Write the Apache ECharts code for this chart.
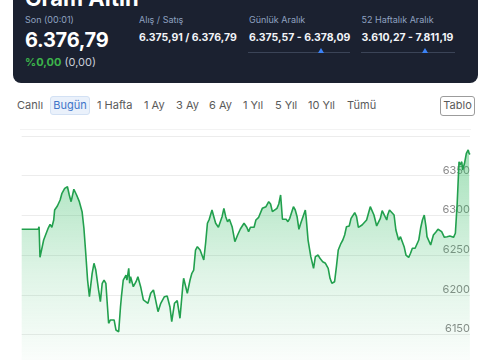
<!DOCTYPE html>
<html>
<head>
<meta charset="utf-8">
<script src="https://cdn.jsdelivr.net/npm/echarts@6/dist/echarts.min.js"></script>
<style>
  html, body { margin:0; padding:0; background:#fff; width:480px; height:360px; overflow:hidden; font-family: Inter, "Noto Sans", sans-serif; }
  .abs { position:absolute; white-space:nowrap; }
  #card { position:absolute; left:13px; top:-20px; width:465px; height:102.7px; background:#1b2130; border-radius:8px; }
  .lbl { font-size:9px; line-height:9px; color:#8fa1c0; }
  .val { font-size:10.5px; line-height:11px; font-weight:700; color:#f2f4f8; }
  .tab { font-size:11px; line-height:11px; color:#5a5a5a; top:100px; }
  .slider { position:absolute; height:1px; background:#3b4457; top:51.5px; }
  .tri { position:absolute; width:0; height:0; border-left:3.5px solid transparent; border-right:3.5px solid transparent; border-bottom:5px solid #3b82f6; top:48px; }
  #chart { position:absolute; left:0; top:120px; width:480px; height:260px; }
</style>
</head>
<body>
<div id="card"></div>
<div class="abs" style="left:25px;top:-13px;font-size:22px;line-height:22px;font-weight:700;color:#fff;">Gram Altın</div>
<div class="abs lbl" style="left:25px;top:15px;">Son (00:01)</div>
<div class="abs" style="left:25px;top:30px;font-size:20px;line-height:20px;font-weight:700;color:#fff;letter-spacing:-0.3px;">6.376,79</div>
<div class="abs" style="left:25px;top:56.5px;font-size:11px;line-height:11px;"><span style="color:#3cb44b;font-weight:700;">%0,00</span> <span style="color:#c9ced8;">(0,00)</span></div>

<div class="abs lbl" style="left:139px;top:15px;">Alış / Satış</div>
<div class="abs val" style="left:139px;top:32px;">6.375,91 / 6.376,79</div>

<div class="abs lbl" style="left:249px;top:15px;">Günlük Aralık</div>
<div class="abs val" style="left:249px;top:32px;">6.375,57 - 6.378,09</div>
<div class="slider" style="left:248px;width:102px;"></div>
<div class="tri" style="left:317.5px;"></div>

<div class="abs lbl" style="left:361.5px;top:15px;">52 Haftalık Aralık</div>
<div class="abs val" style="left:361.5px;top:32px;">3.610,27 - 7.811,19</div>
<div class="slider" style="left:361px;width:94px;"></div>
<div class="tri" style="left:421.5px;"></div>

<div class="abs tab" style="left:17px;">Canlı</div>
<div class="abs" style="left:50px;top:96px;width:38px;height:17px;background:#eaf1fb;border:1px solid #d3e1f4;border-radius:3px;"></div>
<div class="abs tab" style="left:50px;width:40px;text-align:center;color:#3d74c9;">Bugün</div>
<div class="abs tab" style="left:97px;">1 Hafta</div>
<div class="abs tab" style="left:144px;">1 Ay</div>
<div class="abs tab" style="left:176px;">3 Ay</div>
<div class="abs tab" style="left:209px;">6 Ay</div>
<div class="abs tab" style="left:243px;">1 Yıl</div>
<div class="abs tab" style="left:275px;">5 Yıl</div>
<div class="abs tab" style="left:308px;">10 Yıl</div>
<div class="abs tab" style="left:347px;">Tümü</div>
<div class="abs" style="left:440px;top:96px;width:33px;height:18px;border:1px solid #9c9c9c;border-radius:3px;"></div>
<div class="abs tab" style="left:440px;width:35px;text-align:center;">Tablo</div>
<div class="abs" style="left:20px;top:129px;width:451px;height:1px;background:#f3f3f3;"></div>

<div id="chart"></div>
<script>
// minutes after session start (10:00)
const tradeMinutes = [
  0,18,19,20,24,29,31,33,35,36,
  39,42,44,46,47,50,52,54,57,60,
  63,66,68,70,72,74,77,79,81,84,
  86,88,90,92,93,95,97,99,101,103,
  106,108,109,111,114,115,117,118,119,122,
  125,127,130,133,135,138,141,144,146,149,
  152,156,159,162,164,167,170,171,173,176,
  177,179,181,184,186,188,190,192,195,197,
  199,201,203,205,208,210,212,215,217,219,
  221,223,225,227,230,232,233,236,239,243,
  245,246,248,250,252,254,256,259,261,263,
  265,267,270,272,274,276,279,281,283,285,
  287,289,291,293,295,297,299,301,303,305,
  307,310,311,313,316,319,321,324,326,329,
  332,335,337,339,342,344,346,349,351,353,
  355,358,360,361,364,366,368,370,372,374,
  377,379,381,383,385,388,390,392,394,396,
  399,400,402,404,407,409,412,414,416,418,
  420,423,425,427,430,432,434,436,438,440,
  442,443,445,447,450,453,455,457,459,462,
  465,468,470,472,474,476,478,479,481,482,
  484,486,488,489,490
];
const prices = [
  6282.5,6282.5,6285.8,6247.2,6269,6284.1,6288.8,6285,6294.2,6306.8,
  6311.8,6319.4,6327.8,6329.8,6334.1,6336.1,6325.7,6317.3,6332.9,6325.7,
  6317.3,6304.7,6283.8,6252.3,6218.6,6197.6,6227.1,6239.7,6231.2,6206.1,
  6191.3,6214.5,6218.6,6214.5,6197.6,6164.1,6168.3,6169.1,6168.3,6155.7,
  6153.5,6185,6197.6,6218.6,6224.9,6218.6,6233.4,6214.5,6222.8,6210.2,
  6216.5,6222.8,6210.2,6193.5,6191.3,6189.3,6201.9,6206.1,6195.6,6178.7,
  6189.3,6197.6,6198.5,6185,6166.1,6189.3,6192.6,6185,6170.4,6210.2,
  6220.8,6218.6,6201.9,6218.6,6227.1,6231.2,6256.4,6260.6,6256.4,6254.3,
  6243.8,6264.9,6290.1,6295.1,6306.8,6298.4,6290.1,6285,6282.5,6298.4,
  6308.9,6298.4,6292.1,6295.1,6285.8,6273.2,6266.9,6275.3,6282.9,6290.1,
  6292.1,6285,6279.5,6285,6286.7,6285,6294.2,6297.6,6296.3,6308.9,
  6306.8,6311,6317.3,6314.4,6304.7,6306.8,6308.9,6314.4,6325.7,6295.1,
  6293.3,6295.1,6292.1,6296.3,6294.2,6311,6306.8,6298.4,6282.5,6290.1,
  6292.1,6306.8,6296.3,6269,6248,6233.4,6248,6250.1,6246,6241.7,
  6239.7,6233.4,6220.8,6214.5,6216.5,6235.4,6256.4,6264.9,6269,6275.3,
  6285.8,6286.7,6296.3,6294.2,6303.4,6298.4,6285,6285,6287.9,6286.7,
  6294.2,6296.3,6311,6308.9,6300.5,6286.7,6289.2,6296.3,6305.9,6303.4,
  6294.2,6300.5,6306.8,6305.9,6300.5,6281.6,6269,6273.2,6275.3,6260.6,
  6250.1,6247.2,6252.3,6258.6,6258.6,6259.8,6269,6283.8,6294.2,6300.5,
  6285,6273.2,6271.2,6262.7,6275.3,6279.5,6282.5,6285,6279.5,6272.4,
  6273.2,6274.1,6273.2,6272.4,6277.5,6315.2,6367.6,6363.5,6367.6,6357.2,
  6365.6,6378.2,6382.4,6378.2,6376.8
];
const yTicks = [6100, 6150, 6200, 6250, 6300, 6350, 6400];
const sessionMinutes = 490;

const seriesData = tradeMinutes.map((m, i) => [m, prices[i]]);
const chart = echarts.init(document.getElementById('chart'), null, { renderer: 'canvas' });
chart.setOption({
  animation: false,
  backgroundColor: 'transparent',
  grid: { left: 21.7, right: 10, top: 16, bottom: 5.8 },
  xAxis: {
    type: 'value', min: 0, max: sessionMinutes,
    show: false
  },
  yAxis: {
    type: 'value', position: 'right',
    min: yTicks[0], max: yTicks[yTicks.length - 1], interval: 50,
    axisLine: { show: false }, axisTick: { show: false },
    splitLine: { show: true, lineStyle: { color: '#ececec', width: 1 } },
    axisLabel: {
      inside: true, margin: 0, showMaxLabel: false,
      formatter: (v) => String(v),
      color: '#8a8a8a', fontSize: 11, fontFamily: 'Inter',
      verticalAlign: 'bottom', lineHeight: 11
    }
  },
  series: [{
    type: 'line',
    data: seriesData,
    showSymbol: false,
    smooth: false,
    lineStyle: { color: '#22a04e', width: 1.6 },
    areaStyle: {
      color: new echarts.graphic.LinearGradient(0, 0, 0, 1, [
        { offset: 0, color: 'rgba(46,185,95,0.62)' },
        { offset: 0.55, color: 'rgba(46,185,95,0.22)' },
        { offset: 1, color: 'rgba(46,185,95,0.0)' }
      ])
    }
  }]
});
</script>
</body>
</html>
